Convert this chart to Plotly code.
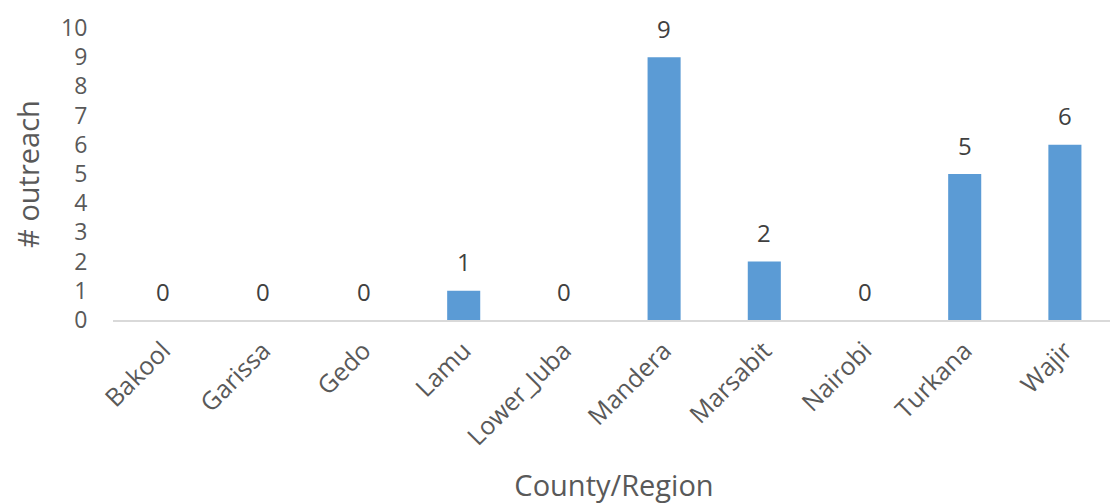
import plotly.graph_objects as go

categories = ["Bakool", "Garissa", "Gedo", "Lamu", "Lower_Juba", "Mandera",
              "Marsabit", "Nairobi", "Turkana", "Wajir"]
outreach = [0, 0, 0, 1, 0, 9, 2, 0, 5, 6]
y_ticks = list(range(0, 11))

fig = go.Figure(go.Bar(x=categories, y=outreach, marker_color="#5B9BD5",
                       marker_line_width=0))

for c, v in zip(categories, outreach):
    fig.add_annotation(x=c, y=v, text=str(v), showarrow=False, yanchor="middle",
                       yshift=29, font=dict(size=24, color="#404040"))

fig.update_layout(
    width=1110, height=496,
    margin=dict(l=105, r=3, t=16, b=184),
    paper_bgcolor="white", plot_bgcolor="white",
    font=dict(family="Open Sans", color="#595959"),
    bargap=0.67, showlegend=False,
)
fig.update_xaxes(tickangle=-45, tickfont=dict(size=25, color="#595959"),
                 showline=True, linecolor="#D9D9D9", linewidth=2,
                 ticks="outside", ticklen=4, tickcolor="rgba(0,0,0,0)", showgrid=False,
                 title=dict(text="County/Region", font=dict(size=29, color="#595959"), standoff=28))
fig.update_yaxes(range=[0, 10], tickvals=y_ticks, showgrid=False, zeroline=False,
                 showline=False, ticks="outside", ticklen=20, tickcolor="rgba(0,0,0,0)",
                 ticklabeloverflow="allow",
                 tickfont=dict(size=23, color="#595959"),
                 title=dict(text="# outreach", font=dict(size=29, color="#595959"), standoff=14))

fig.write_html("out.html")
